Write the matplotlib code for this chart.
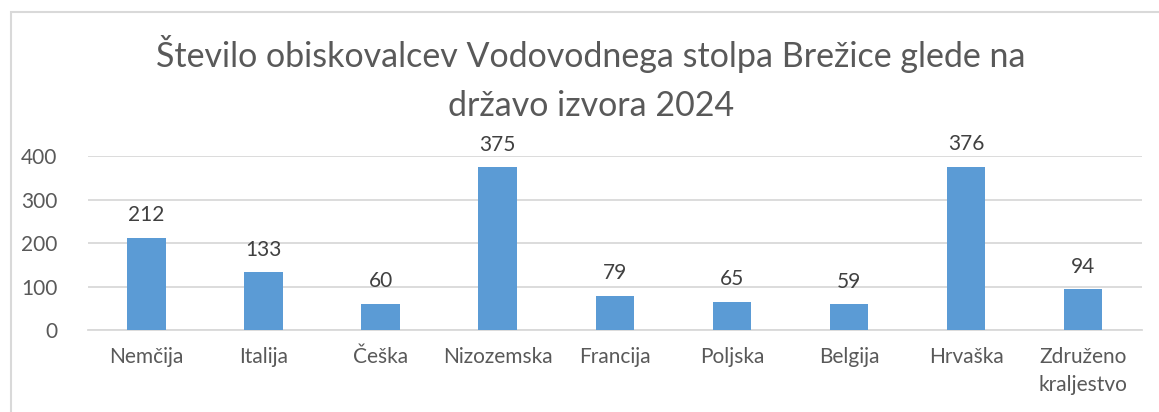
import matplotlib.pyplot as plt
from matplotlib.patches import Rectangle

countries = ["Nemčija", "Italija", "Češka", "Nizozemska", "Francija",
             "Poljska", "Belgija", "Hrvaška", "Združeno\nkraljestvo"]
visitors = [212, 133, 60, 375, 79, 65, 59, 376, 94]
yticks = [0, 100, 200, 300, 400]

plt.rcParams['font.family'] = ['Lato', 'DejaVu Sans']
txt = '#595959'
grid = '#D9D9D9'

fig = plt.figure(figsize=(11.59, 4.12), dpi=100)
ax = fig.add_axes([0.076, 0.199, 0.909, 0.422])

bars = ax.bar(range(len(countries)), visitors, width=0.33, color='#5B9BD5', zorder=3)
for b, v in zip(bars, visitors):
    ax.annotate(str(v), (b.get_x() + b.get_width() / 2, v), xytext=(0, 9),
                textcoords='offset points', ha='center', va='bottom',
                fontsize=15, color='#404040')

ax.set_xlim(-0.5, len(countries) - 0.5)
ax.set_ylim(0, 400)
ax.set_yticks(yticks)
ax.set_xticks(range(len(countries)))
ax.set_xticklabels(countries, linespacing=1.55)
ax.yaxis.grid(True, color=grid, lw=1.3, zorder=0)
for s in ['top', 'right', 'left']:
    ax.spines[s].set_visible(False)
ax.spines['bottom'].set_color(grid)
ax.spines['bottom'].set_linewidth(1.3)
ax.tick_params(length=0, labelsize=15, colors=txt)
ax.tick_params(axis='x', pad=12)
ax.tick_params(axis='y', pad=22)

fig.text(0.51, 0.81, "Število obiskovalcev Vodovodnega stolpa Brežice glede na\ndržavo izvora 2024",
         ha='center', va='center', fontsize=24.5, color=txt, linespacing=1.66)

fig.patches.append(Rectangle((10.5 / 1159, -0.05), 1.1, (412 - 11.5) / 412 + 0.05,
                             transform=fig.transFigure, fill=False, ec=grid, lw=1.5))

fig.savefig('out.png', dpi=100)
